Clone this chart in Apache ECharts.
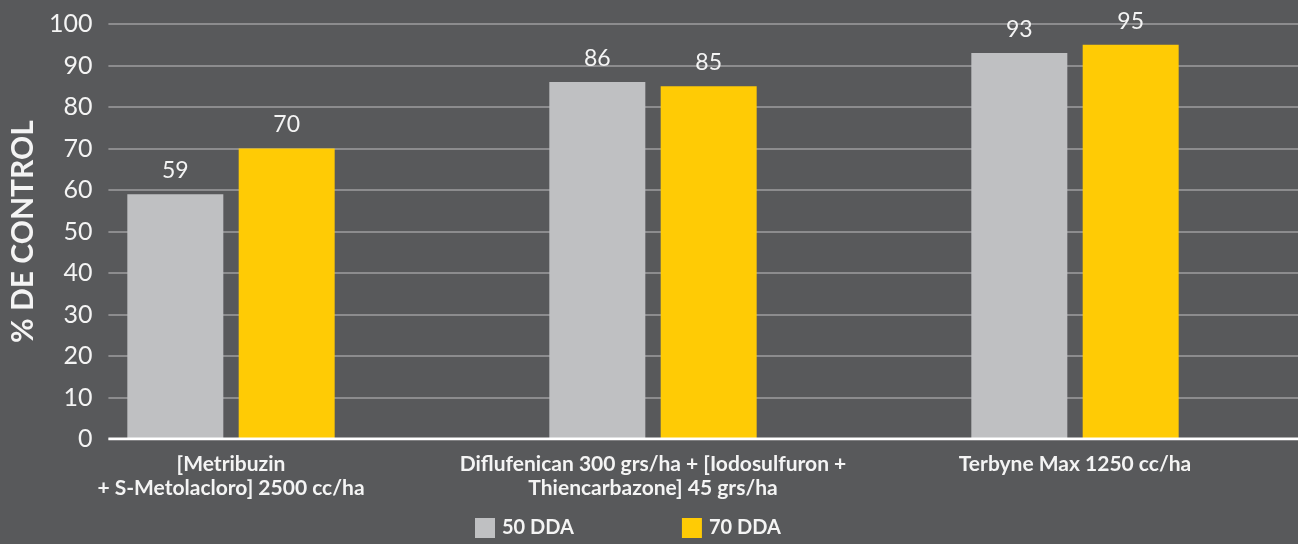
<!DOCTYPE html>
<html>
<head>
<meta charset="utf-8">
<script src="https://cdn.jsdelivr.net/npm/echarts@6/dist/echarts.min.js"></script>
<style>
  html, body { margin: 0; padding: 0; background: #58595b; }
  #chart { width: 1298px; height: 544px; }
</style>
</head>
<body>
<div id="chart"></div>
<script>
// Treatments and % control per sampling date
const categories = [
  '[Metribuzin\n+ S-Metolacloro] 2500 cc/ha',
  'Diflufenican 300 grs/ha + [Iodosulfuron +\nThiencarbazone] 45 grs/ha',
  'Terbyne Max 1250 cc/ha'
];
const seriesNames = ['50 DDA', '70 DDA'];
const dda50 = [59, 86, 93];
const dda70 = [70, 85, 95];
const yTicks = { min: 0, max: 100, interval: 10 };

const FONT = 'Lato, "Open Sans", sans-serif';
const TEXT = '#f4f4f4';

const chart = echarts.init(document.getElementById('chart'));
chart.setOption({
  backgroundColor: '#58595b',
  animation: false,
  textStyle: { fontFamily: FONT },
  grid: [
    // grid with value ticks and gridlines
    { left: 95, right: 0, top: 24, bottom: 105 },
    // grid holding the bars and category labels
    { left: 20, right: 12, top: 24, bottom: 105 }
  ],
  legend: {
    data: seriesNames,
    bottom: 1,
    left: 470,
    itemWidth: 20,
    itemHeight: 20,
    itemGap: 108,
    icon: 'rect',
    textStyle: { color: TEXT, fontSize: 20, fontWeight: 'bold', fontFamily: FONT, padding: [2, 0, 0, 2] }
  },
  xAxis: [
    {
      gridIndex: 0, type: 'value', min: 0, max: 1,
      axisLine: { show: false }, axisTick: { show: false },
      axisLabel: { show: false }, splitLine: { show: false }
    },
    {
      gridIndex: 1, type: 'category', data: categories,
      axisLine: { show: false }, axisTick: { show: false },
      axisLabel: {
        color: TEXT, fontSize: 21, fontWeight: 'bold', fontFamily: FONT,
        margin: 13, lineHeight: 24, interval: 0, align: 'center'
      }
    }
  ],
  yAxis: [
    {
      gridIndex: 0, type: 'value',
      min: yTicks.min, max: yTicks.max, interval: yTicks.interval,
      name: '% DE CONTROL', nameLocation: 'middle', nameGap: 56, nameRotate: 90,
      nameTextStyle: { color: TEXT, fontSize: 30, fontWeight: 'bold', fontFamily: FONT },
      axisLine: { show: false }, axisTick: { show: false },
      axisLabel: { color: TEXT, fontSize: 25, margin: 16, fontFamily: FONT },
      splitLine: { lineStyle: { color: '#8c8c8e', width: 2 } }
    },
    {
      gridIndex: 1, type: 'value',
      min: yTicks.min, max: yTicks.max, interval: yTicks.interval,
      axisLine: { show: false }, axisTick: { show: false },
      axisLabel: { show: false }, splitLine: { show: false }
    }
  ],
  series: [
    {
      name: seriesNames[0], type: 'bar', xAxisIndex: 1, yAxisIndex: 1,
      data: dda50, barWidth: 96, barGap: '16%',
      itemStyle: { color: '#bfc0c2' },
      label: { show: true, position: 'top', distance: 12, color: TEXT, fontSize: 23, fontFamily: FONT }
    },
    {
      name: seriesNames[1], type: 'bar', xAxisIndex: 1, yAxisIndex: 1,
      data: dda70, barWidth: 96, barGap: '16%',
      itemStyle: { color: '#ffcb05' },
      label: { show: true, position: 'top', distance: 12, color: TEXT, fontSize: 23, fontFamily: FONT }
    },
    {
      // white baseline at zero across the plot
      type: 'line', xAxisIndex: 0, yAxisIndex: 0, silent: true,
      data: [[0, 0], [1, 0]], symbol: 'none',
      lineStyle: { color: '#ffffff', width: 3 }, z: 5
    }
  ]
});
</script>
</body>
</html>
